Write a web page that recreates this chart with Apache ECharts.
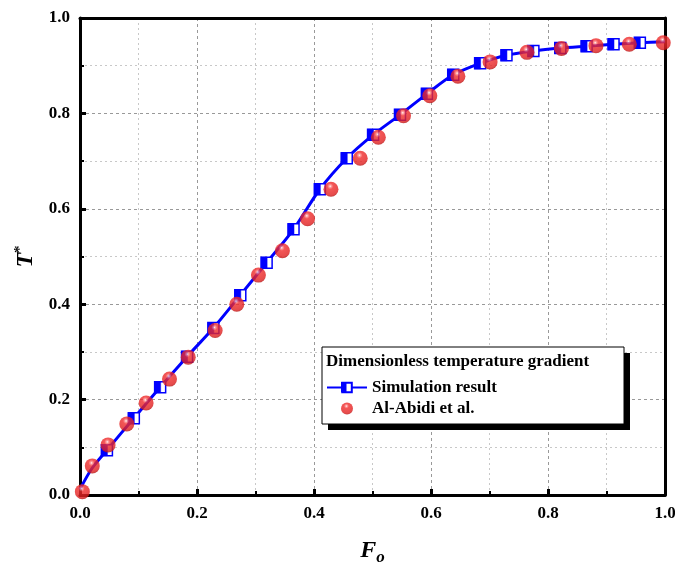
<!DOCTYPE html>
<html>
<head>
<meta charset="utf-8">
<script src="https://cdn.jsdelivr.net/npm/echarts@6/dist/echarts.min.js"></script>
<style>html,body{margin:0;padding:0;background:#fff}#c{width:675px;height:563px}</style>
</head>
<body>
<div id="c"></div>
<script>
// Simulation result (marked points)
var simX = [0.046,0.092,0.137,0.183,0.228,0.274,0.319,0.365,0.410,0.456,0.501,0.547,0.593,0.638,0.684,0.729,0.775,0.821,0.866,0.912,0.957];
var simY = [0.094,0.161,0.226,0.290,0.350,0.419,0.487,0.557,0.641,0.706,0.755,0.797,0.841,0.881,0.905,0.922,0.931,0.937,0.941,0.945,0.948];
// Unmarked curve points (start and end of simulation curve)
var curveStartX = [0.000,0.020];
var curveStartY = [0.012,0.055];
var curveEndX = [1.000];
var curveEndY = [0.950];
// Al-Abidi et al. experimental data
var expX = [0.004,0.021,0.048,0.080,0.113,0.153,0.185,0.231,0.268,0.305,0.346,0.389,0.429,0.479,0.510,0.553,0.598,0.646,0.701,0.764,0.823,0.882,0.939,0.997];
var expY = [0.007,0.061,0.105,0.149,0.193,0.243,0.289,0.345,0.400,0.461,0.512,0.579,0.641,0.706,0.750,0.795,0.837,0.878,0.908,0.928,0.936,0.942,0.945,0.948];
var axisTicks = [0.0,0.2,0.4,0.6,0.8,1.0];

var FONT = "'Liberation Serif','Times New Roman',serif";
var BLUE = '#0000ff';

var lineData = [];
curveStartX.forEach(function(x,i){ lineData.push({value:[x,curveStartY[i]], symbol:'none'}); });
simX.forEach(function(x,i){ lineData.push({value:[x,simY[i]]}); });
curveEndX.forEach(function(x,i){ lineData.push({value:[x,curveEndY[i]], symbol:'none'}); });
var halfData = simX.map(function(x,i){ return [x,simY[i]]; });
var expData = expX.map(function(x,i){ return [x,expY[i]]; });

var ball = {
  type:'radial', x:0.45, y:0.3, r:0.72,
  colorStops:[{offset:0,color:'#ffffff'},{offset:0.1,color:'#ff8e8e'},{offset:0.28,color:'#f02c2c'},{offset:0.8,color:'#e01f1f'},{offset:1,color:'#b00e0e'}]
};

var tickLabel = {fontFamily:FONT, fontWeight:'bold', fontSize:17, color:'#000'};

var chart = echarts.init(document.getElementById('c'), null, {renderer:'canvas'});
chart.setOption({
  animation:false,
  backgroundColor:'#fff',
  grid:{left:80, right:10, top:18, bottom:68, containLabel:false, outerBoundsMode:'none'},
  xAxis:[{
    type:'value', min:0, max:1, interval:0.2,
    name:'{f|F}{o|o}', nameLocation:'middle', nameGap:40,
    nameTextStyle:{rich:{
      f:{fontFamily:FONT, fontWeight:'bold', fontStyle:'italic', fontSize:24, color:'#000'},
      o:{fontFamily:FONT, fontWeight:'bold', fontStyle:'italic', fontSize:17, color:'#000', padding:[14,0,0,0]}
    }},
    axisLine:{show:true, onZero:false, lineStyle:{color:'#000', width:3}},
    axisTick:{show:true, inside:true, length:6, lineStyle:{width:3, color:'#000'}},
    minorTick:{show:true, splitNumber:2, length:4, lineStyle:{width:2, color:'#000'}},
    axisLabel:Object.assign({margin:10, formatter:function(v){return v.toFixed(1);}}, tickLabel),
    splitLine:{show:true, lineStyle:{color:'#999', width:1, type:[3,3]}},
    minorSplitLine:{show:true, lineStyle:{color:'#c8c8c8', width:1, type:[2,3]}}
  },{
    type:'value', min:0, max:1, position:'top',
    axisLine:{show:true, onZero:false, lineStyle:{color:'#000', width:3}},
    axisTick:{show:false}, axisLabel:{show:false}, splitLine:{show:false}
  }],
  yAxis:[{
    type:'value', min:0, max:1, interval:0.2,
    name:'{t|T}{s|*}', nameLocation:'middle', nameGap:36, nameRotate:90,
    nameTextStyle:{rich:{
      t:{fontFamily:FONT, fontWeight:'bold', fontStyle:'italic', fontSize:24, color:'#000'},
      s:{fontFamily:FONT, fontWeight:'bold', fontSize:15, color:'#000', padding:[0,0,12,0]}
    }},
    axisLine:{show:true, onZero:false, lineStyle:{color:'#000', width:3}},
    axisTick:{show:true, inside:true, length:6, lineStyle:{width:3, color:'#000'}},
    minorTick:{show:true, splitNumber:2, length:4, lineStyle:{width:2, color:'#000'}},
    axisLabel:Object.assign({margin:10, formatter:function(v){return v.toFixed(1);}}, tickLabel),
    splitLine:{show:true, lineStyle:{color:'#999', width:1, type:[3,3]}},
    minorSplitLine:{show:true, lineStyle:{color:'#c8c8c8', width:1, type:[2,3]}}
  },{
    type:'value', min:0, max:1, position:'right',
    axisLine:{show:true, onZero:false, lineStyle:{color:'#000', width:3}},
    axisTick:{show:false}, axisLabel:{show:false}, splitLine:{show:false}
  }],
  legend:{
    data:[{name:'Simulation result'},{name:'Al-Abidi et al.'}],
    orient:'vertical', left:321, top:374, itemGap:4,
    itemWidth:40, itemHeight:12, z:20,
    textStyle:{fontFamily:FONT, fontWeight:'bold', fontSize:17, color:'#000'}
  },
  graphic:[
    {type:'rect', z:10, shape:{x:328, y:353, width:302, height:77}, style:{fill:'#000'}},
    {type:'rect', z:11, shape:{x:322, y:347, width:302, height:77}, style:{fill:'#fff', stroke:'#000', lineWidth:1}},
    {type:'text', z:12, left:326, top:353, style:{text:'Dimensionless temperature gradient', font:"bold 17px 'Liberation Serif','Times New Roman',serif", fill:'#000'}},
    {type:'rect', z:30, zlevel:0, shape:{x:341, y:382, width:5.5, height:10}, style:{fill:BLUE}}
  ],
  series:[
    {
      name:'Simulation result', type:'line', smooth:0.3, data:lineData,
      showAllSymbol:true, symbol:'rect', symbolSize:11,
      lineStyle:{color:BLUE, width:3},
      itemStyle:{color:'#fff', borderColor:BLUE, borderWidth:1.5},
      z:3
    },
    {
      name:'simHalf', type:'scatter', data:halfData,
      symbol:'rect', symbolSize:[6,11], symbolOffset:[-2.5,0],
      itemStyle:{color:BLUE, borderColor:BLUE, borderWidth:0.5, opacity:1}, z:6, silent:true
    },
    {
      name:'Al-Abidi et al.', type:'scatter', data:expData, clip:false,
      symbol:'circle', symbolSize:15,
      itemStyle:{color:ball}, z:7
    }
  ]
});
</script>
</body>
</html>
